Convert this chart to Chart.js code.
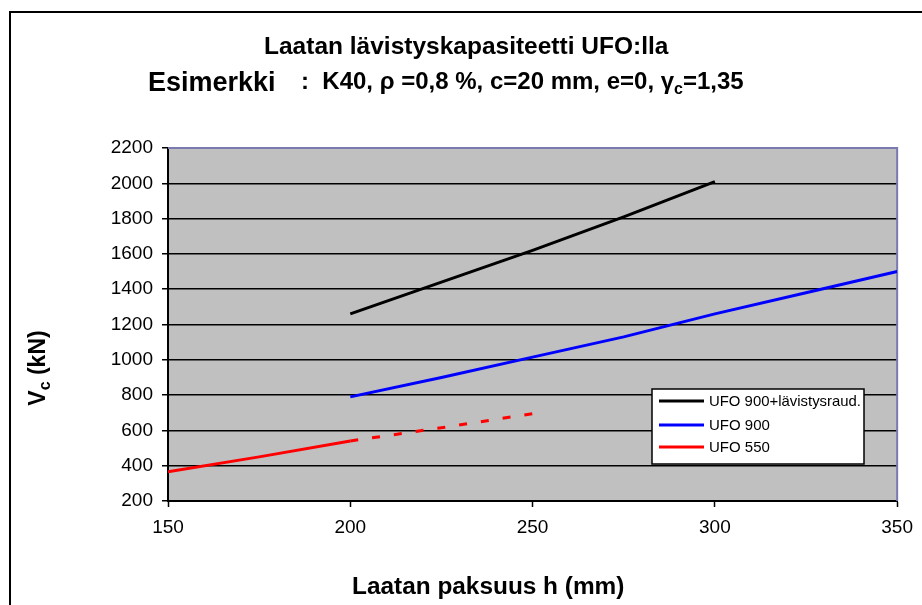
<!DOCTYPE html>
<html>
<head>
<meta charset="utf-8">
<script src="https://cdn.jsdelivr.net/npm/chart.js"></script>
<style>
  html, body { margin: 0; padding: 0; background: #fff; }
  #wrap { width: 922px; height: 605px; position: relative; }
</style>
</head>
<body>
<div id="wrap"><canvas id="myChart" width="922" height="605"></canvas></div>
<script>
// values
const seriesNames = ['UFO 900+lävistysraud.', 'UFO 900', 'UFO 550'];
const hUfo900R = [200, 225, 250, 275, 300];
const vUfo900R = [1260, 1440, 1620, 1810, 2010];
const hUfo900 = [200, 225, 250, 275, 300, 325, 350];
const vUfo900 = [790, 900, 1015, 1130, 1260, 1380, 1500];
const hUfo550 = [150, 175, 200, 225, 250];
const vUfo550 = [365, 450, 540, 615, 695];
const xTicks = [150, 200, 250, 300, 350];
const yTicks = [200, 400, 600, 800, 1000, 1200, 1400, 1600, 1800, 2000, 2200];

const FONT = "'Liberation Sans', Arial, sans-serif";
const toPts = (xs, ys) => xs.map((x, i) => ({ x: x, y: ys[i] }));

// writes pieces one after the other; a piece with sub:true is a subscript
function runText(ctx, parts, x, y) {
    parts.forEach(p => {
        ctx.font = 'bold ' + p.size + 'px ' + FONT;
        ctx.fillText(p.t, x, y + (p.sub ? 5 : 0));
        x += ctx.measureText(p.t).width + (p.gap || 0);
    });
    return x;
}

// titles, legend, frame - drawn by hand like the Excel original
const decor = {
    id: 'decor',
    beforeDraw(chart) {
        const { ctx, chartArea: a } = chart;
        ctx.save();
        ctx.fillStyle = '#c0c0c0';
        ctx.fillRect(a.left, a.top, a.right - a.left, a.bottom - a.top);
        ctx.restore();
    },
    beforeDatasetsDraw(chart) {
        const { ctx, chartArea: a } = chart;
        ctx.save();
        ctx.strokeStyle = '#7a7ab0';
        ctx.lineWidth = 2;
        ctx.beginPath();
        ctx.moveTo(a.left, a.top);
        ctx.lineTo(a.right, a.top);
        ctx.lineTo(a.right, a.bottom);
        ctx.stroke();
        ctx.restore();
    },
    afterDraw(chart) {
        const ctx = chart.ctx;
        ctx.save();
        // outer frame
        ctx.strokeStyle = '#000';
        ctx.lineWidth = 2;
        ctx.strokeRect(10, 12, 1000, 1000);

        ctx.fillStyle = '#000';
        ctx.textBaseline = 'alphabetic';
        ctx.textAlign = 'left';

        // title line 1
        ctx.font = 'bold 24.5px ' + FONT;
        ctx.fillText('Laatan lävistyskapasiteetti UFO:lla', 264, 54);

        // title line 2
        runText(ctx, [{ t: 'Esimerkki', size: 27 }], 148, 91);
        runText(ctx, [
            { t: ':  K40, ρ =0,8 %, c=20 mm, e=0, γ', size: 24 },
            { t: 'c', size: 16, sub: true },
            { t: '=1,35', size: 24 }
        ], 301, 89);

        // x axis title
        ctx.font = 'bold 24.4px ' + FONT;
        ctx.fillText('Laatan paksuus h (mm)', 352, 594);

        // y axis title with subscript
        ctx.save();
        ctx.translate(45, 368);
        ctx.rotate(-Math.PI / 2);
        const yParts = [{ t: 'V', size: 23 }, { t: 'c', size: 16, sub: true }, { t: ' (kN)', size: 23 }];
        let w = 0;
        yParts.forEach(p => { ctx.font = 'bold ' + p.size + 'px ' + FONT; w += ctx.measureText(p.t).width; });
        runText(ctx, yParts, -w / 2, 0);
        ctx.restore();

        // legend
        const lx = 652, ly = 389, lw = 212, lh = 75;
        ctx.fillStyle = '#fff';
        ctx.fillRect(lx, ly, lw, lh);
        ctx.strokeStyle = '#000';
        ctx.lineWidth = 1.5;
        ctx.strokeRect(lx, ly, lw, lh);
        const rows = [401, 425, 447];
        ctx.font = '15px ' + FONT;
        ctx.textBaseline = 'middle';
        chart.data.datasets.forEach((ds, i) => {
            ctx.strokeStyle = ds.borderColor;
            ctx.lineWidth = 3;
            ctx.beginPath();
            ctx.moveTo(659, rows[i]);
            ctx.lineTo(704, rows[i]);
            ctx.stroke();
            ctx.fillStyle = '#000';
            ctx.fillText(ds.label, 709, rows[i] + 1, 152);
        });
        ctx.restore();
    }
};

const ctx = document.getElementById('myChart').getContext('2d');
const myChart = new Chart(ctx, {
    type: 'line',
    data: {
        datasets: [
            {
                label: seriesNames[0],
                data: toPts(hUfo900R, vUfo900R),
                borderColor: '#000000',
                borderWidth: 3,
                pointRadius: 0,
                fill: false
            },
            {
                label: seriesNames[1],
                data: toPts(hUfo900, vUfo900),
                borderColor: '#0000ff',
                borderWidth: 3,
                pointRadius: 0,
                fill: false
            },
            {
                label: seriesNames[2],
                data: toPts(hUfo550, vUfo550),
                borderColor: '#ff0000',
                borderWidth: 3,
                pointRadius: 0,
                fill: false,
                // past h = 200 the curve is only an extrapolation: dashed
                segment: {
                    borderDash: c => (c.p0.parsed.x >= 200 ? [8, 14] : undefined)
                }
            }
        ]
    },
    options: {
        responsive: false,
        animation: false,
        devicePixelRatio: 1,
        layout: { padding: { top: 148, right: 16, left: 0, bottom: 0 } },
        plugins: {
            legend: { display: false },
            title: { display: false },
            tooltip: { enabled: false }
        },
        scales: {
            x: {
                type: 'linear',
                min: xTicks[0],
                max: xTicks[xTicks.length - 1],
                afterBuildTicks: s => { s.ticks = xTicks.map(v => ({ value: v })); },
                afterFit: s => { s.height = 104; },
                grid: {
                    drawOnChartArea: false,
                    drawTicks: true,
                    tickLength: 6,
                    tickColor: '#000',
                    tickWidth: 1.5
                },
                border: { color: '#000', width: 2 },
                ticks: {
                    color: '#000',
                    font: { family: FONT, size: 19 },
                    padding: 9,
                    maxRotation: 0,
                    callback: v => String(v)
                }
            },
            y: {
                type: 'linear',
                min: yTicks[0],
                max: yTicks[yTicks.length - 1],
                afterBuildTicks: s => { s.ticks = yTicks.map(v => ({ value: v })); },
                afterFit: s => { s.width = 168; },
                grid: {
                    color: '#000',
                    lineWidth: 1.5,
                    drawTicks: true,
                    tickLength: 6,
                    tickColor: '#000'
                },
                border: { color: '#000', width: 2 },
                ticks: {
                    color: '#000',
                    font: { family: FONT, size: 19 },
                    padding: 9,
                    callback: v => String(v)
                }
            }
        }
    },
    plugins: [decor]
});
</script>
</body>
</html>
